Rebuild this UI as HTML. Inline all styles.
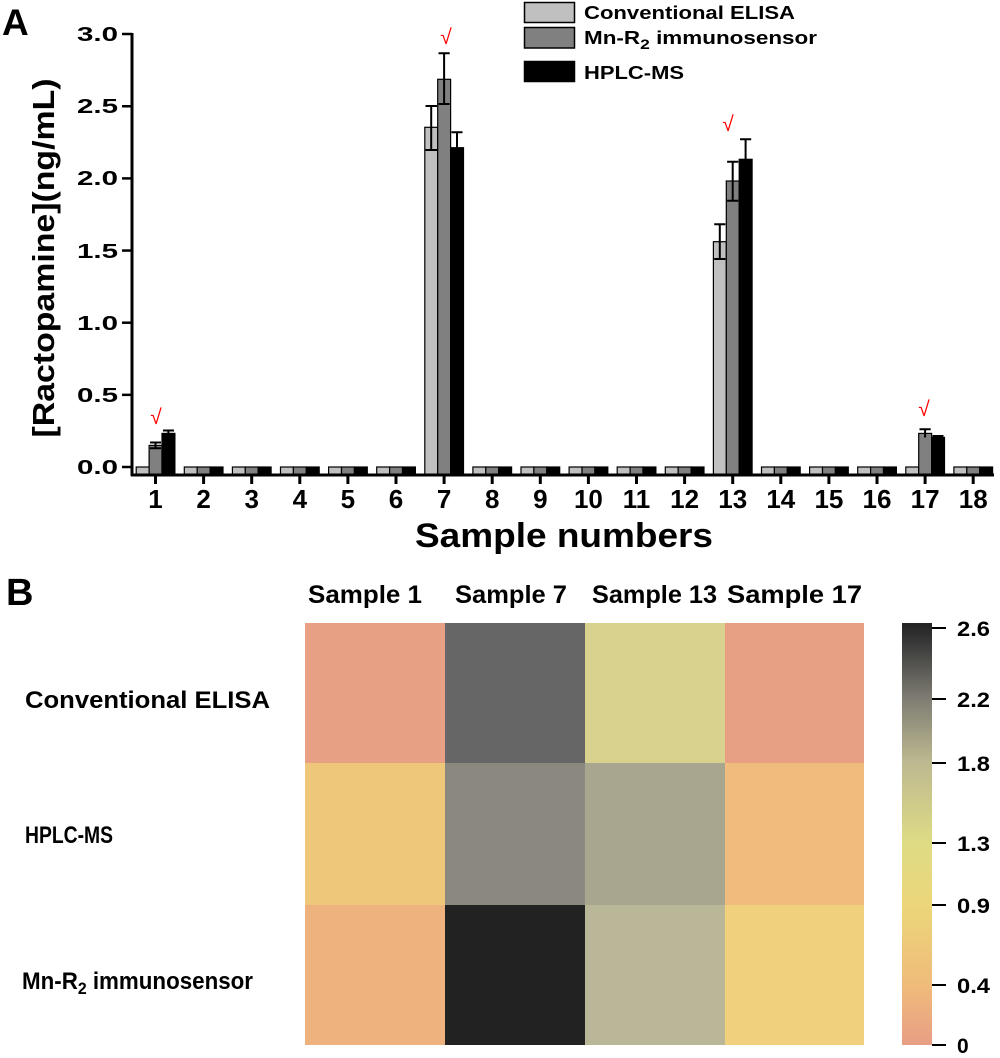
<!DOCTYPE html>
<html>
<head>
<meta charset="utf-8">
<style>
html,body{margin:0;padding:0;background:#fff;}
svg{display:block;}
text{font-family:"Liberation Sans",Arial,sans-serif;font-weight:bold;fill:#000;}
</style>
</head>
<body>
<svg width="1000" height="1058" viewBox="0 0 1000 1058" xmlns="http://www.w3.org/2000/svg">
<defs>
<linearGradient id="cb" x1="0" y1="0" x2="0" y2="1">
<stop offset="0" stop-color="#222222"/>
<stop offset="0.05" stop-color="#3a3a3a"/>
<stop offset="0.18" stop-color="#7f7d73"/>
<stop offset="0.33" stop-color="#bdb990"/>
<stop offset="0.52" stop-color="#dedb85"/>
<stop offset="0.67" stop-color="#ecd679"/>
<stop offset="0.86" stop-color="#efbb7b"/>
<stop offset="1" stop-color="#e89e84"/>
</linearGradient>
</defs>

<!-- Panel labels -->
<text x="2" y="35" font-size="37">A</text>
<text x="6" y="605" font-size="38">B</text>

<!-- Y axis -->
<line x1="132" y1="33" x2="132" y2="476" stroke="#000" stroke-width="3"/>
<g stroke="#000" stroke-width="2.5">
<line x1="122" y1="467" x2="132" y2="467"/>
<line x1="122" y1="394.85" x2="132" y2="394.85"/>
<line x1="122" y1="322.7" x2="132" y2="322.7"/>
<line x1="122" y1="250.55" x2="132" y2="250.55"/>
<line x1="122" y1="178.4" x2="132" y2="178.4"/>
<line x1="122" y1="106.25" x2="132" y2="106.25"/>
<line x1="122" y1="34" x2="132" y2="34"/>
</g>
<g font-size="20" text-anchor="end">
<text x="118" y="474" textLength="41" lengthAdjust="spacingAndGlyphs">0.0</text>
<text x="118" y="402" textLength="41" lengthAdjust="spacingAndGlyphs">0.5</text>
<text x="118" y="330" textLength="41" lengthAdjust="spacingAndGlyphs">1.0</text>
<text x="118" y="258" textLength="41" lengthAdjust="spacingAndGlyphs">1.5</text>
<text x="118" y="185" textLength="41" lengthAdjust="spacingAndGlyphs">2.0</text>
<text x="118" y="113" textLength="41" lengthAdjust="spacingAndGlyphs">2.5</text>
<text x="118" y="41" textLength="41" lengthAdjust="spacingAndGlyphs">3.0</text>
</g>
<text transform="translate(54,258) rotate(-90)" font-size="31" text-anchor="middle" textLength="359" lengthAdjust="spacingAndGlyphs">[Ractopamine](ng/mL)</text>

<!-- Bars -->
<g stroke="#000" stroke-width="1.2">
<rect x="136.2" y="467" width="12.9" height="8" fill="#c0c0c0"/>
<rect x="149.1" y="445.4" width="12.9" height="29.6" fill="#808080"/>
<rect x="162" y="433.4" width="12.9" height="41.6" fill="#000"/>
<rect x="184.3" y="467" width="12.9" height="8" fill="#c0c0c0"/><rect x="197.2" y="467" width="12.9" height="8" fill="#808080"/><rect x="210.1" y="467" width="12.9" height="8" fill="#000"/>
<rect x="232.4" y="467" width="12.9" height="8" fill="#c0c0c0"/><rect x="245.3" y="467" width="12.9" height="8" fill="#808080"/><rect x="258.2" y="467" width="12.9" height="8" fill="#000"/>
<rect x="280.5" y="467" width="12.9" height="8" fill="#c0c0c0"/><rect x="293.4" y="467" width="12.9" height="8" fill="#808080"/><rect x="306.3" y="467" width="12.9" height="8" fill="#000"/>
<rect x="328.6" y="467" width="12.9" height="8" fill="#c0c0c0"/><rect x="341.5" y="467" width="12.9" height="8" fill="#808080"/><rect x="354.4" y="467" width="12.9" height="8" fill="#000"/>
<rect x="376.7" y="467" width="12.9" height="8" fill="#c0c0c0"/><rect x="389.6" y="467" width="12.9" height="8" fill="#808080"/><rect x="402.5" y="467" width="12.9" height="8" fill="#000"/>
<rect x="424.8" y="127.3" width="12.9" height="347.7" fill="#c0c0c0"/>
<rect x="437.7" y="79.3" width="12.9" height="395.7" fill="#808080"/>
<rect x="450.6" y="147.7" width="12.9" height="327.3" fill="#000"/>
<rect x="472.9" y="467" width="12.9" height="8" fill="#c0c0c0"/><rect x="485.8" y="467" width="12.9" height="8" fill="#808080"/><rect x="498.7" y="467" width="12.9" height="8" fill="#000"/>
<rect x="521" y="467" width="12.9" height="8" fill="#c0c0c0"/><rect x="533.9" y="467" width="12.9" height="8" fill="#808080"/><rect x="546.8" y="467" width="12.9" height="8" fill="#000"/>
<rect x="569.1" y="467" width="12.9" height="8" fill="#c0c0c0"/><rect x="582" y="467" width="12.9" height="8" fill="#808080"/><rect x="594.9" y="467" width="12.9" height="8" fill="#000"/>
<rect x="617.2" y="467" width="12.9" height="8" fill="#c0c0c0"/><rect x="630.1" y="467" width="12.9" height="8" fill="#808080"/><rect x="643" y="467" width="12.9" height="8" fill="#000"/>
<rect x="665.3" y="467" width="12.9" height="8" fill="#c0c0c0"/><rect x="678.2" y="467" width="12.9" height="8" fill="#808080"/><rect x="691.1" y="467" width="12.9" height="8" fill="#000"/>
<rect x="713.4" y="241.7" width="12.9" height="233.3" fill="#c0c0c0"/>
<rect x="726.3" y="181" width="12.9" height="294" fill="#808080"/>
<rect x="739.2" y="159.3" width="12.9" height="315.7" fill="#000"/>
<rect x="761.5" y="467" width="12.9" height="8" fill="#c0c0c0"/><rect x="774.4" y="467" width="12.9" height="8" fill="#808080"/><rect x="787.3" y="467" width="12.9" height="8" fill="#000"/>
<rect x="809.6" y="467" width="12.9" height="8" fill="#c0c0c0"/><rect x="822.5" y="467" width="12.9" height="8" fill="#808080"/><rect x="835.4" y="467" width="12.9" height="8" fill="#000"/>
<rect x="857.7" y="467" width="12.9" height="8" fill="#c0c0c0"/><rect x="870.6" y="467" width="12.9" height="8" fill="#808080"/><rect x="883.5" y="467" width="12.9" height="8" fill="#000"/>
<rect x="905.8" y="467" width="12.9" height="8" fill="#c0c0c0"/>
<rect x="918.7" y="433.4" width="12.9" height="41.6" fill="#808080"/>
<rect x="931.6" y="437.4" width="12.9" height="37.6" fill="#000"/>
<rect x="953.9" y="467" width="12.9" height="8" fill="#c0c0c0"/><rect x="966.8" y="467" width="12.9" height="8" fill="#808080"/><rect x="979.7" y="467" width="12.9" height="8" fill="#000"/>
</g>

<!-- Error bars -->
<g stroke="#000" stroke-width="2" fill="none">
<path d="M155.5 442.5 V448.3 M150 442.5 H161 M150 448.3 H161"/>
<path d="M168.4 430.5 V436.3 M163 430.5 H174"/>
<path d="M431.2 106 V150 M425.5 106 H437 M425.5 150 H437"/>
<path d="M444.1 53.3 V104 M438.5 53.3 H449.7 M438.5 104 H449.7"/>
<path d="M457 132.3 V163 M451.5 132.3 H462.5"/>
<path d="M719.8 224.3 V259 M714.2 224.3 H725.4 M714.2 259 H725.4"/>
<path d="M732.7 161.7 V200.7 M727.1 161.7 H738.3 M727.1 200.7 H738.3"/>
<path d="M745.6 139.3 V179 M740 139.3 H751.2"/>
<path d="M925.1 429.3 V437.5 M919.5 429.3 H930.7"/>
<path d="M938 436 V439 M932.5 436 H943.5"/>
</g>

<!-- check marks -->
<g font-family="'DejaVu Sans',sans-serif" font-size="21" text-anchor="middle">
<text x="156" y="424" style="fill:#ff0000;font-weight:normal">√</text>
<text x="446" y="44" style="fill:#ff0000;font-weight:normal">√</text>
<text x="728" y="131" style="fill:#ff0000;font-weight:normal">√</text>
<text x="924" y="416" style="fill:#ff0000;font-weight:normal">√</text>
</g>

<!-- X axis -->
<line x1="131" y1="475" x2="994" y2="475" stroke="#000" stroke-width="3"/>
<g stroke="#000" stroke-width="3">
<line x1="155.5" y1="475" x2="155.5" y2="484"/><line x1="203.6" y1="475" x2="203.6" y2="484"/><line x1="251.7" y1="475" x2="251.7" y2="484"/><line x1="299.8" y1="475" x2="299.8" y2="484"/><line x1="347.9" y1="475" x2="347.9" y2="484"/><line x1="396" y1="475" x2="396" y2="484"/><line x1="444.1" y1="475" x2="444.1" y2="484"/><line x1="492.2" y1="475" x2="492.2" y2="484"/><line x1="540.3" y1="475" x2="540.3" y2="484"/><line x1="588.4" y1="475" x2="588.4" y2="484"/><line x1="636.5" y1="475" x2="636.5" y2="484"/><line x1="684.6" y1="475" x2="684.6" y2="484"/><line x1="732.7" y1="475" x2="732.7" y2="484"/><line x1="780.8" y1="475" x2="780.8" y2="484"/><line x1="828.9" y1="475" x2="828.9" y2="484"/><line x1="877" y1="475" x2="877" y2="484"/><line x1="925.1" y1="475" x2="925.1" y2="484"/><line x1="973.2" y1="475" x2="973.2" y2="484"/>
</g>
<g font-size="26" text-anchor="middle">
<text x="155.5" y="508">1</text><text x="203.6" y="508">2</text><text x="251.7" y="508">3</text><text x="299.8" y="508">4</text><text x="347.9" y="508">5</text><text x="396" y="508">6</text><text x="444.1" y="508">7</text><text x="492.2" y="508">8</text><text x="540.3" y="508">9</text><text x="588.4" y="508">10</text><text x="636.5" y="508">11</text><text x="684.6" y="508">12</text><text x="732.7" y="508">13</text><text x="780.8" y="508">14</text><text x="828.9" y="508">15</text><text x="877" y="508">16</text><text x="925.1" y="508">17</text><text x="973.2" y="508">18</text>
</g>
<text x="415" y="547" font-size="34" textLength="298" lengthAdjust="spacingAndGlyphs">Sample numbers</text>

<!-- Legend -->
<rect x="524.5" y="2.5" width="50" height="20" fill="#c0c0c0" stroke="#000" stroke-width="1.5"/>
<rect x="524.5" y="27.5" width="50" height="20.5" fill="#808080" stroke="#000" stroke-width="1.5"/>
<rect x="524.5" y="61.5" width="50" height="20" fill="#000" stroke="#000" stroke-width="1.5"/>
<text x="584" y="19" font-size="18" textLength="211" lengthAdjust="spacingAndGlyphs">Conventional ELISA</text>
<text x="584" y="44" font-size="18" textLength="233" lengthAdjust="spacingAndGlyphs">Mn-R<tspan dy="5" font-size="14">2</tspan><tspan dy="-5"> immunosensor</tspan></text>
<text x="584" y="79" font-size="18" textLength="100" lengthAdjust="spacingAndGlyphs">HPLC-MS</text>

<!-- Heatmap -->
<g font-size="25">
<text x="308" y="603" textLength="114" lengthAdjust="spacingAndGlyphs">Sample 1</text>
<text x="455" y="603" textLength="112" lengthAdjust="spacingAndGlyphs">Sample 7</text>
<text x="592" y="603" textLength="125" lengthAdjust="spacingAndGlyphs">Sample 13</text>
<text x="727" y="603" textLength="135" lengthAdjust="spacingAndGlyphs">Sample 17</text>
</g>
<g font-size="24">
<text x="25" y="708" textLength="245" lengthAdjust="spacingAndGlyphs">Conventional ELISA</text>
<text x="25" y="843" textLength="88" lengthAdjust="spacingAndGlyphs">HPLC-MS</text>
<text x="22" y="989" textLength="231" lengthAdjust="spacingAndGlyphs">Mn-R<tspan dy="5" font-size="17">2</tspan><tspan dy="-5"> immunosensor</tspan></text>
</g>

<rect x="305" y="623" width="140" height="140" fill="#e8a084"/>
<rect x="445" y="623" width="140" height="140" fill="#666666"/>
<rect x="585" y="623" width="140" height="140" fill="#d8d28e"/>
<rect x="725" y="623" width="139" height="140" fill="#e8a084"/>

<rect x="305" y="763" width="140" height="142" fill="#efc77b"/>
<rect x="445" y="763" width="140" height="142" fill="#8b8880"/>
<rect x="585" y="763" width="140" height="142" fill="#a8a68e"/>
<rect x="725" y="763" width="139" height="142" fill="#efbc7e"/>

<rect x="305" y="905" width="140" height="140" fill="#eeb27f"/>
<rect x="445" y="905" width="140" height="140" fill="#222222"/>
<rect x="585" y="905" width="140" height="140" fill="#b9b797"/>
<rect x="725" y="905" width="139" height="140" fill="#f0d07c"/>

<!-- Colorbar -->
<rect x="902" y="623" width="30" height="422" fill="url(#cb)"/>
<g stroke="#000" stroke-width="2">
<line x1="932" y1="628" x2="946" y2="628"/>
<line x1="932" y1="699" x2="946" y2="699"/>
<line x1="932" y1="763" x2="946" y2="763"/>
<line x1="932" y1="843" x2="946" y2="843"/>
<line x1="932" y1="905" x2="946" y2="905"/>
<line x1="932" y1="985" x2="946" y2="985"/>
<line x1="932" y1="1045" x2="946" y2="1045"/>
</g>
<g font-size="21">
<text x="957" y="636" textLength="33" lengthAdjust="spacingAndGlyphs">2.6</text>
<text x="957" y="707" textLength="33" lengthAdjust="spacingAndGlyphs">2.2</text>
<text x="957" y="771" textLength="33" lengthAdjust="spacingAndGlyphs">1.8</text>
<text x="957" y="851" textLength="33" lengthAdjust="spacingAndGlyphs">1.3</text>
<text x="957" y="913" textLength="33" lengthAdjust="spacingAndGlyphs">0.9</text>
<text x="957" y="993" textLength="33" lengthAdjust="spacingAndGlyphs">0.4</text>
<text x="957" y="1053">0</text>
</g>
</svg>
</body>
</html>
